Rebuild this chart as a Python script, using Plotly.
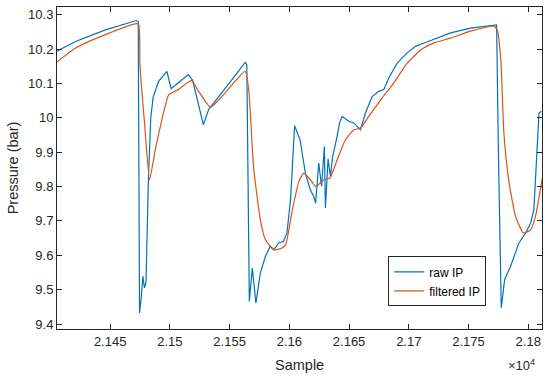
import plotly.graph_objects as go

# raw IP (blue)
raw_x = [21405, 21412, 21421, 21446, 21472, 21473.5, 21474.6, 21476, 21477.4, 21478.7, 21480,
         21482, 21484, 21486, 21490.5, 21497.5, 21501, 21508, 21515.4, 21519, 21528, 21532.4,
         21543.6, 21552, 21563, 21564.4, 21566.5, 21569, 21572, 21575.7, 21580, 21584,
         21587, 21591, 21595, 21598, 21601, 21604.4, 21609, 21613.4, 21617.6, 21620.4,
         21622, 21624.6, 21627, 21629.3, 21630.2, 21632.4, 21634.4, 21636.3, 21640, 21642,
         21644.2, 21649.7, 21654, 21659.5, 21663.7, 21669.3, 21674.8, 21679, 21683.2, 21690.3,
         21698.6, 21705.6, 21714, 21721, 21735, 21751.7, 21771.2, 21773.5, 21775, 21777.4,
         21780.2, 21785.2, 21792.2, 21797.8, 21802, 21804.7, 21809, 21811]
raw_y = [10.193, 10.205, 10.222, 10.256, 10.283, 10.28, 9.432, 9.477, 9.539, 9.505, 9.52,
         9.82, 10.0, 10.06, 10.106, 10.135, 10.085, 10.105, 10.125, 10.11, 9.98, 10.024,
         10.072, 10.111, 10.161, 10.155, 9.466, 9.563, 9.461, 9.548, 9.597, 9.626,
         9.616, 9.636, 9.64, 9.665, 9.762, 9.977, 9.936, 9.839, 9.79, 9.771,
         9.752, 9.868, 9.8, 9.917, 9.738, 9.88, 9.83, 9.888, 9.946, 9.985,
         10.004, 9.99, 9.985, 9.965, 10.014, 10.062, 10.077, 10.082, 10.116, 10.159,
         10.189, 10.208, 10.219, 10.229, 10.247, 10.261, 10.271, 10.27, 9.9, 9.447,
         9.529, 9.568, 9.636, 9.665, 9.694, 9.733, 10.014, 10.019]

# filtered IP (orange)
filt_x = [21405, 21421, 21446, 21472, 21474, 21475, 21479, 21483, 21487.7, 21496,
          21499, 21507, 21518, 21524, 21534, 21543.6, 21563, 21566, 21570, 21575.7,
          21580, 21587, 21594, 21597, 21602, 21608, 21612, 21617.6, 21622, 21629,
          21634, 21640, 21647, 21654, 21659.5, 21666.5, 21677.7, 21687.4, 21698.6, 21711,
          21721, 21735, 21751.7, 21771.2, 21774, 21777, 21779.6, 21784, 21789.4, 21796,
          21802, 21806, 21812]
filt_y = [10.161, 10.203, 10.242, 10.274, 10.27, 10.15, 9.975, 9.82, 9.905, 10.033,
          10.067, 10.082, 10.109, 10.077, 10.031, 10.062, 10.135, 10.082, 9.859, 9.704,
          9.645, 9.616, 9.621, 9.631, 9.723, 9.815, 9.839, 9.82, 9.8, 9.82,
          9.825, 9.878, 9.936, 9.965, 9.97, 10.004, 10.058, 10.101, 10.159, 10.2,
          10.218, 10.232, 10.252, 10.266, 10.256, 10.169, 9.956, 9.81, 9.713, 9.665,
          9.674, 9.713, 9.83]

x_ticks = [21450, 21500, 21550, 21600, 21650, 21700, 21750, 21800]
x_tick_labels = ["2.145", "2.15", "2.155", "2.16", "2.165", "2.17", "2.175", "2.18"]
y_ticks = [9.4, 9.5, 9.6, 9.7, 9.8, 9.9, 10.0, 10.1, 10.2, 10.3]
y_tick_labels = ["9.4", "9.5", "9.6", "9.7", "9.8", "9.9", "10", "10.1", "10.2", "10.3"]

FONT = "Liberation Sans, Arial, sans-serif"
AX = "#262626"

fig = go.Figure()
fig.add_trace(go.Scatter(x=raw_x, y=raw_y, mode="lines", name="raw IP",
                         line=dict(color="#0072BD", width=1.2)))
fig.add_trace(go.Scatter(x=filt_x, y=filt_y, mode="lines", name="filtered IP",
                         line=dict(color="#D95319", width=1.2, shape="spline", smoothing=0.5)))

axis_common = dict(showline=True, linecolor=AX, linewidth=1, mirror="ticks",
                   ticks="inside", ticklen=5, tickcolor=AX, tickwidth=1,
                   showgrid=False, zeroline=False,
                   tickfont=dict(family=FONT, size=13, color=AX))

fig.update_layout(
    width=550, height=378,
    margin=dict(l=57, r=8, t=7, b=49),
    paper_bgcolor="white", plot_bgcolor="white",
    showlegend=True,
    legend=dict(x=0.885, y=0.07, xanchor="right", yanchor="bottom",
                bordercolor=AX, borderwidth=1, bgcolor="white",
                font=dict(family=FONT, size=12, color="#000000"),
                tracegroupgap=0),
    xaxis=dict(range=[21405.5, 21811.5], tickvals=x_ticks, ticktext=x_tick_labels,
               **axis_common),
    yaxis=dict(range=[9.3855, 10.3224], tickvals=y_ticks, ticktext=y_tick_labels,
               **axis_common),
    annotations=[
        dict(text="Sample", x=0.5, y=-0.08, xref="paper", yref="paper",
             xanchor="center", yanchor="top", showarrow=False,
             font=dict(family=FONT, size=14.5, color=AX)),
        dict(text="Pressure (bar)", x=-0.09, y=0.5, xref="paper", yref="paper",
             xanchor="center", yanchor="middle", textangle=-90, showarrow=False,
             font=dict(family=FONT, size=14.5, color=AX)),
        dict(text="×10<sup>4</sup>", x=0.99, y=-0.08, xref="paper", yref="paper",
             xanchor="right", yanchor="top", showarrow=False,
             font=dict(family=FONT, size=13, color=AX)),
    ],
)

fig.write_html("out.html", config={"displayModeBar": False},
               post_script="document.body.style.margin='0';")
